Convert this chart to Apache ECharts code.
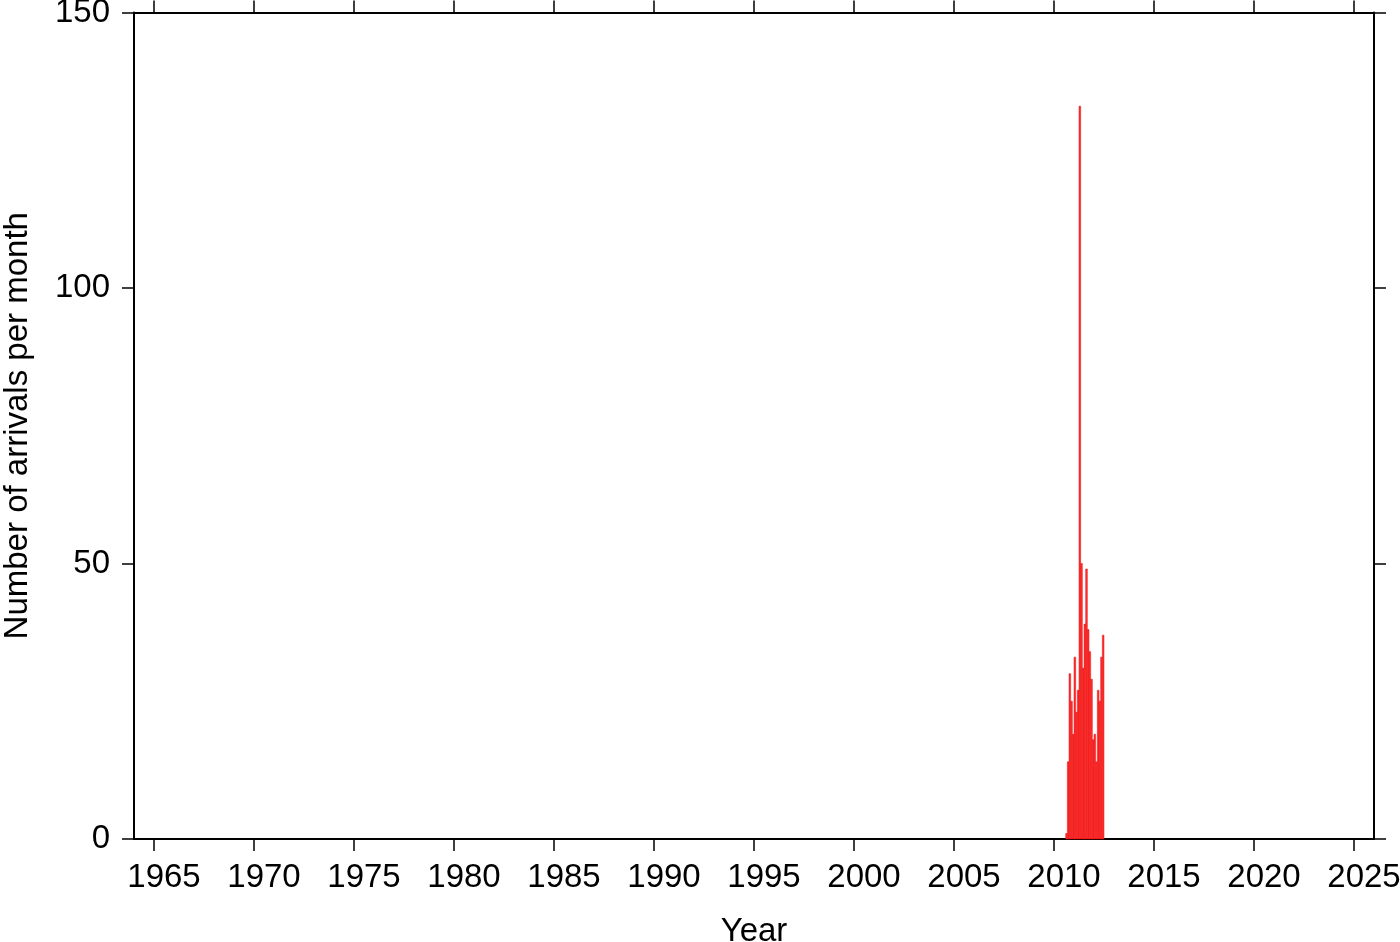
<!DOCTYPE html>
<html>
<head>
<meta charset="utf-8">
<script src="https://cdn.jsdelivr.net/npm/echarts@6/dist/echarts.min.js"></script>
<style>
html,body{margin:0;padding:0;background:#fff;}
#chart{width:1400px;height:942px;}
</style>
</head>
<body>
<div id="chart"></div>
<script>
// Monthly bins (start month) and counts of arrivals
const months = ["2010-08","2010-09","2010-10","2010-11","2010-12","2011-01","2011-02","2011-03",
  "2011-04","2011-05","2011-06","2011-07","2011-08","2011-09","2011-10","2011-11",
  "2011-12","2012-01","2012-02","2012-03","2012-04","2012-05","2012-06"];
const counts = [1,14,30,25,19,33,23,27,133,50,31,39,49,38,34,29,18,19,14,27,25,33,37];
const xTickYears = [1965,1970,1975,1980,1985,1990,1995,2000,2005,2010,2015,2020,2025];
const yTicks = [0,50,100,150];
const xMin = 1964, xMax = 2026;

function monthStart(m){ const p = m.split('-'); return (+p[0]) + (+p[1]-1)/12; }
const data = months.map((m,i)=>[monthStart(m), monthStart(m)+1/12, counts[i]]);

const FONT = 'Liberation Sans, Arial, Helvetica, sans-serif';
const FS = 33;
const chart = echarts.init(document.getElementById('chart'));
const lineStyle = {color:'#000', width:2};
const tickStyle = {color:'#000', width:1.5};
chart.setOption({
  animation:false,
  backgroundColor:'#fff',
  grid:{left:134, top:12.5, right:26, bottom:103, containLabel:false, outerBoundsMode:'none'},
  xAxis:[{
    type:'value', min:xMin, max:xMax, position:'bottom',
    axisLine:{show:true, onZero:false, lineStyle:lineStyle},
    axisTick:{show:true, inside:false, length:12, customValues:xTickYears, lineStyle:tickStyle},
    axisLabel:{show:true, customValues:xTickYears, margin:22, padding:[0,0,0,20], color:'#000', fontFamily:FONT, fontSize:FS, formatter:v=>String(v)},
    splitLine:{show:false},
    name:'Year', nameLocation:'middle', nameGap:76,
    nameTextStyle:{color:'#000', fontFamily:FONT, fontSize:FS}
  },{
    type:'value', min:xMin, max:xMax, position:'top',
    axisLine:{show:true, onZero:false, lineStyle:lineStyle},
    axisTick:{show:true, inside:false, length:12, customValues:xTickYears, lineStyle:tickStyle},
    axisLabel:{show:false},
    splitLine:{show:false}
  }],
  yAxis:[{
    type:'value', min:0, max:150, interval:50, position:'left',
    axisLine:{show:true, onZero:false, lineStyle:lineStyle},
    axisTick:{show:true, inside:false, length:12, lineStyle:tickStyle},
    axisLabel:{show:true, margin:24, color:'#000', fontFamily:FONT, fontSize:FS,
      customValues:yTicks},
    splitLine:{show:false},
    name:'Number of arrivals per month', nameLocation:'middle', nameGap:100, nameRotate:90,
    nameTextStyle:{color:'#000', fontFamily:FONT, fontSize:FS}
  },{
    type:'value', min:0, max:150, interval:50, position:'right',
    axisLine:{show:true, onZero:false, lineStyle:lineStyle},
    axisTick:{show:true, inside:false, length:12, lineStyle:tickStyle},
    axisLabel:{show:false},
    splitLine:{show:false}
  }],
  series:[{
    type:'custom',
    xAxisIndex:0, yAxisIndex:0,
    data:data,
    encode:{x:[0,1], y:2},
    renderItem:function(params, api){
      const p0 = api.coord([api.value(0), api.value(2)]);
      const p1 = api.coord([api.value(1), 0]);
      return {
        type:'rect',
        shape:{x:p0[0], y:p0[1], width:p1[0]-p0[0], height:p1[1]-p0[1]},
        style:{fill:'#ff3030', stroke:'#e60c0c', lineWidth:0.5}
      };
    }
  }]
});
</script>
</body>
</html>
